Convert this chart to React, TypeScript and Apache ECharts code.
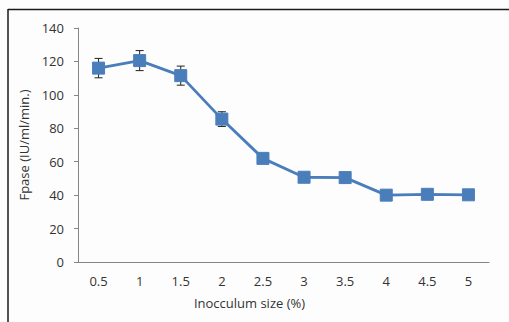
import React, { useEffect, useRef } from "react";
import * as echarts from "echarts";

const categories = ["0.5", "1", "1.5", "2", "2.5", "3", "3.5", "4", "4.5", "5"];
const fpase = [116, 120.5, 111.5, 85.5, 62, 50.7, 50.5, 40, 40.5, 40.2];
const errors = [5.8, 6, 5.7, 4.4, 1.5, 1.5, 1.5, 1, 1, 1];
const yTicks = { min: 0, max: 140, interval: 20 };

export default function App() {
  const ref = useRef<HTMLDivElement>(null);
  useEffect(() => {
    document.body.style.margin = "0";
    const chart = echarts.init(ref.current!, null, { renderer: "svg" });
    const font = "'Open Sans', 'Noto Sans', sans-serif";
    const errData = fpase.map((v, i) => [i, v - errors[i], v + errors[i]]);
    chart.setOption({
      animation: false,
      backgroundColor: "#fdfdfd",
      grid: { left: 78, right: 20, top: 28, bottom: 60 },
      xAxis: {
        type: "category",
        data: categories,
        boundaryGap: true,
        name: "Inocculum size (%)",
        nameLocation: "middle",
        nameGap: 34,
        nameTextStyle: { fontFamily: font, fontSize: 13, color: "#333", padding: [0, 68, 0, 0] },
        axisLine: { lineStyle: { color: "#868686", width: 1 } },
        axisTick: { length: 5, lineStyle: { color: "#868686" } },
        axisLabel: { fontFamily: font, fontSize: 13, color: "#333", margin: 12 },
        splitLine: { show: false },
      },
      yAxis: {
        type: "value",
        min: yTicks.min,
        max: yTicks.max,
        interval: yTicks.interval,
        name: "Fpase (IU/ml/min.)",
        nameLocation: "middle",
        nameGap: 40,
        nameTextStyle: { fontFamily: font, fontSize: 13, color: "#333" },
        axisLine: { show: true, lineStyle: { color: "#868686", width: 1 } },
        axisTick: { show: true, length: 4, lineStyle: { color: "#868686" } },
        axisLabel: { fontFamily: font, fontSize: 13, color: "#333", margin: 14 },
        splitLine: { show: false },
      },
      graphic: [
        { type: "line", shape: { x1: 8, y1: 9.5, x2: 509, y2: 9.5 }, style: { stroke: "#1a1a1a", lineWidth: 1.5 } },
        { type: "line", shape: { x1: 8, y1: 9, x2: 8, y2: 322 }, style: { stroke: "#1a1a1a", lineWidth: 1.5 } },
      ],
      series: [
        {
          type: "custom",
          z: 1,
          data: errData,
          renderItem: (params: any, api: any) => {
            const x = api.coord([api.value(0), api.value(1)])[0];
            const lo = api.coord([api.value(0), api.value(1)])[1];
            const hi = api.coord([api.value(0), api.value(2)])[1];
            const w = 4;
            const st = { stroke: "#222", lineWidth: 1 };
            return {
              type: "group",
              children: [
                { type: "line", shape: { x1: x, y1: lo, x2: x, y2: hi }, style: st },
                { type: "line", shape: { x1: x - w, y1: lo, x2: x + w, y2: lo }, style: st },
                { type: "line", shape: { x1: x - w, y1: hi, x2: x + w, y2: hi }, style: st },
              ],
            };
          },
        },
        {
          type: "line",
          z: 3,
          data: fpase,
          symbol: "rect",
          symbolSize: 12,
          lineStyle: { color: "#4a7ebb", width: 2.8 },
          itemStyle: { color: "#4a7ebb", borderColor: "#4a7ebb" },
        },
      ],
    });
    return () => chart.dispose();
  }, []);
  return <div ref={ref} style={{ width: 509, height: 322 }} />;
}
